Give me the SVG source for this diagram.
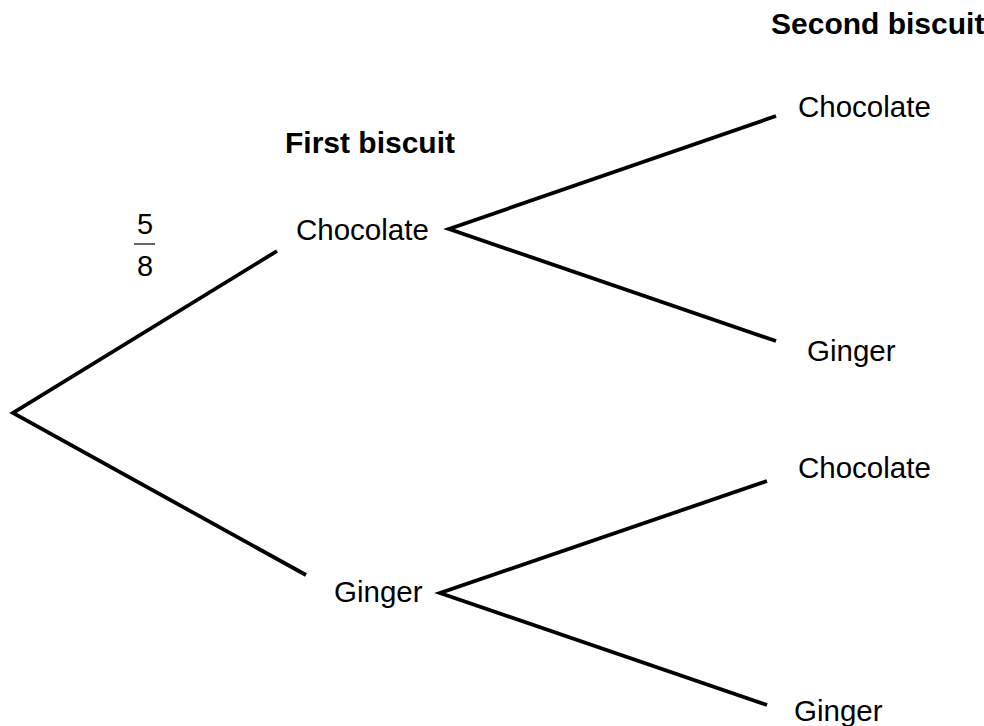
<svg xmlns="http://www.w3.org/2000/svg" width="984" height="726" viewBox="0 0 984 726">
<style>
  .lbl { font-family: "Liberation Sans", Arial, sans-serif; font-size: 29.5px; fill: #000; }
  .hdr { font-family: "Liberation Sans", Arial, sans-serif; font-size: 30px; font-weight: bold; fill: #000; }
  .num { font-family: "Liberation Sans", Arial, sans-serif; font-size: 29px; fill: #000; text-anchor: middle; }
  .br { stroke: #000; stroke-width: 3.8; fill: none; stroke-linecap: butt; stroke-linejoin: miter; }
</style>
<rect width="984" height="726" fill="#fff"/>
<g id="headers">
  <text class="hdr" x="285" y="153">First biscuit</text>
  <text class="hdr" x="771" y="34">Second biscuit</text>
</g>
<g id="connectors">
  <polyline class="br" points="277,251 13,413 306,575"/>
  <polyline class="br" points="776,116 449,229 776,341"/>
  <polyline class="br" points="767,481 440,593 767,705"/>
</g>
<g id="prob-root-chocolate">
  <text class="num" x="145" y="234">5</text>
  <line x1="134" y1="244" x2="155" y2="244" stroke="#000" stroke-width="1.2"/>
  <text class="num" x="145" y="276">8</text>
</g>
<g id="node-first-chocolate"><text class="lbl" x="296" y="240">Chocolate</text></g>
<g id="node-first-ginger"><text class="lbl" x="334" y="602">Ginger</text></g>
<g id="node-cc"><text class="lbl" x="798" y="117">Chocolate</text></g>
<g id="node-cg"><text class="lbl" x="807" y="361">Ginger</text></g>
<g id="node-gc"><text class="lbl" x="798" y="478">Chocolate</text></g>
<g id="node-gg"><text class="lbl" x="794" y="721">Ginger</text></g>
</svg>
